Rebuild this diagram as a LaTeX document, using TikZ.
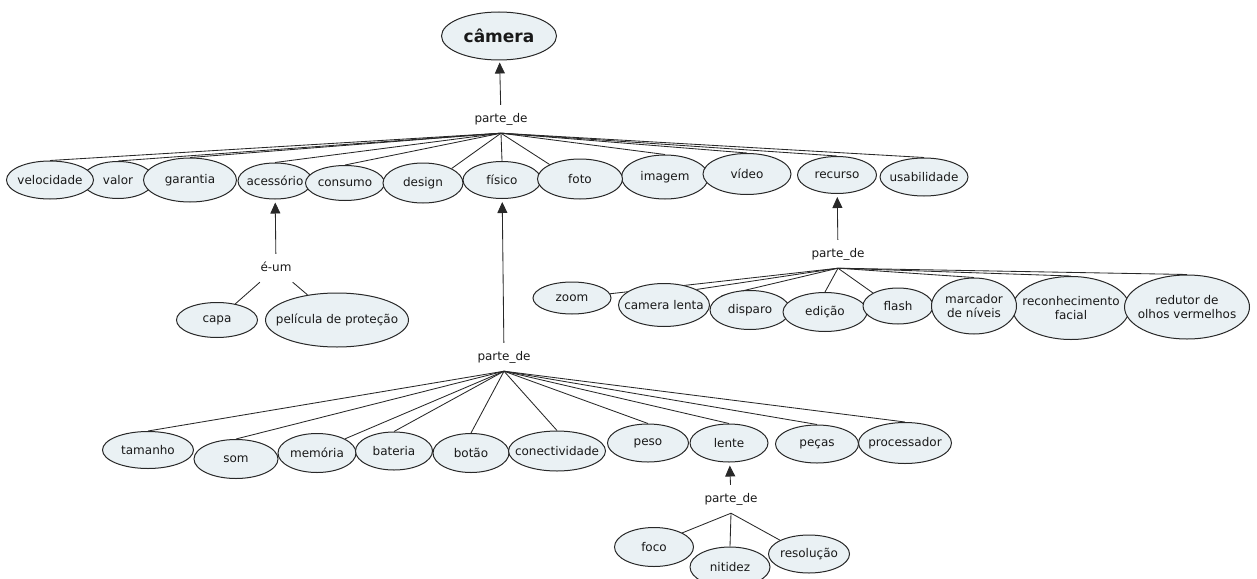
\documentclass[tikz,border=0pt]{standalone}
\usepackage{fontspec}
\setmainfont{DejaVu Sans}
\usetikzlibrary{shapes.geometric,arrows.meta}
\pgfdeclarelayer{background}
\pgfsetlayers{background,main}
\definecolor{cfill}{RGB}{234,241,244}
\definecolor{cline}{RGB}{40,40,40}
\definecolor{ctext}{RGB}{25,25,25}
\tikzset{
  cpt/.style 2 args={ellipse, draw=cline, fill=cfill, line width=1pt,
    minimum width=#1pt, minimum height=#2pt, inner xsep=-40pt, inner ysep=-20pt,
    align=center, text=ctext, font=\fontsize{12}{14.2}\selectfont},
  link/.style={inner xsep=2pt, inner ysep=8pt, text height=9pt, text depth=3pt,
    text=ctext, font=\fontsize{12}{14}\selectfont},
  conn/.style={draw=cline, line width=0.85pt},
  arr/.style={conn, -{Triangle[length=11pt,width=10pt]}, shorten >=2pt},
}
\begin{document}
\begin{tikzpicture}[x=1pt,y=-1pt]
\useasboundingbox (0,0) rectangle (1257,578);

% root concept
\node[cpt={115}{48}, font=\fontsize{17}{20}\selectfont\bfseries] (cam) at (499,36) {câmera};

% first level
\node[cpt={72}{37}] (val) at (118,180) {valor};
\node[cpt={87}{38}] (vel) at (50,180) {velocidade};
\node[cpt={93}{44}] (gar) at (190,180) {garantia};
\node[cpt={74}{36}] (ace) at (275,181) {acessório};
\node[cpt={79}{35}] (con) at (345,183) {consumo};
\node[cpt={80}{40}] (des) at (423,183) {design};
\node[cpt={78}{37}] (fis) at (502,180) {físico};
\node[cpt={87}{44}] (ima) at (665,177) {imagem};
\node[cpt={85}{40}] (fot) at (580,179) {foto};
\node[cpt={88}{41}] (vid) at (747,174) {vídeo};
\node[cpt={79}{37}] (rec) at (837,175) {recurso};
\node[cpt={88}{38}] (usa) at (924,177) {usabilidade};

% accessories
\node[cpt={81}{35}] (capa) at (217,320) {capa};
\node[cpt={143}{54}] (pel) at (337,320) {película de proteção};

% features
\node[cpt={78}{32}] (zoo) at (572,298) {zoom};
\node[cpt={91}{43}] (cml) at (664,305) {camera lenta};
\node[cpt={80}{39}] (dis) at (750,310) {disparo};
\node[cpt={84}{39}] (edi) at (825,312) {edição};
\node[cpt={70}{36}] (fla) at (898,306) {flash};
\node[cpt={117}{63}] (rco) at (1071,308) {reconhecimento\\facial};
\node[cpt={85}{56}] (mar) at (974,306) {marcador\\de níveis};
\node[cpt={125}{64}] (red) at (1187,307) {redutor de\\olhos vermelhos};

% physical parts
\node[cpt={91}{37}] (tam) at (148,450) {tamanho};
\node[cpt={84}{39}] (som) at (236,459) {som};
\node[cpt={78}{39}] (mem) at (317,453) {memória};
\node[cpt={77}{38}] (bat) at (394,451) {bateria};
\node[cpt={76}{39}] (bot) at (471,453) {botão};
\node[cpt={97}{40}] (cnt) at (557,451) {conectividade};
\node[cpt={81}{38}] (pes) at (648,443) {peso};
\node[cpt={78}{38}] (len) at (729,443) {lente};
\node[cpt={83}{38}] (pec) at (817,444) {peças};
\node[cpt={93}{41}] (pro) at (905,443) {processador};

% lens parts
\node[cpt={79}{39}] (foc) at (654,547) {foco};
\node[cpt={80}{40}] (nit) at (730,567) {nitidez};
\node[cpt={81}{38}] (res) at (809,554) {resolução};

% linking phrases
\node[link] (pd1) at (501,119) {parte\_de};
\node[link] (eum) at (276,268) {é-um};
\node[link] (pd2) at (504,357) {parte\_de};
\node[link] (pd3) at (838,254) {parte\_de};
\node[link] (pd4) at (731,499) {parte\_de};

\begin{pgfonlayer}{background}
  % arrows towards the whole
  \draw[arr] (pd1) -- (cam);
  \draw[arr, shorten >=3pt] (eum) -- (ace);
  \draw[arr, shorten >=3pt] (pd2) -- (fis);
  \draw[arr, shorten >=3pt] (pd3) -- (rec);
  \draw[arr, shorten >=3pt] (pd4) -- (len);

  % first-level fan
  \foreach \n/\a in {vel/north, val/north, gar/north, ace/north, con/north,
                     des/north east, fis/north, fot/north west, ima/north,
                     vid/north, rec/north, usa/north}
    \draw[conn] (pd1.south) -- (\n.\a);

  % is-a
  \draw[conn] (eum) -- (capa);
  \draw[conn] (eum) -- (pel);

  % features fan
  \draw[conn] (pd3.south) -- (zoo);
  \foreach \n/\a in {cml/north east, dis/north west, edi/north, fla/north west,
                     mar/north, rco/north, red/north}
    \draw[conn] (pd3.south) -- (\n.\a);

  % physical parts fan
  \foreach \n/\a in {tam/north, som/north, mem/north east, bat/north, bot/north,
                     cnt/north, pes/north, len/north, pec/north, pro/north}
    \draw[conn] (pd2.south) -- (\n.\a);

  % lens parts fan
  \foreach \n/\a in {foc/north east, nit/north, res/north west}
    \draw[conn] (pd4.south) -- (\n.\a);
\end{pgfonlayer}
\end{tikzpicture}
\end{document}
